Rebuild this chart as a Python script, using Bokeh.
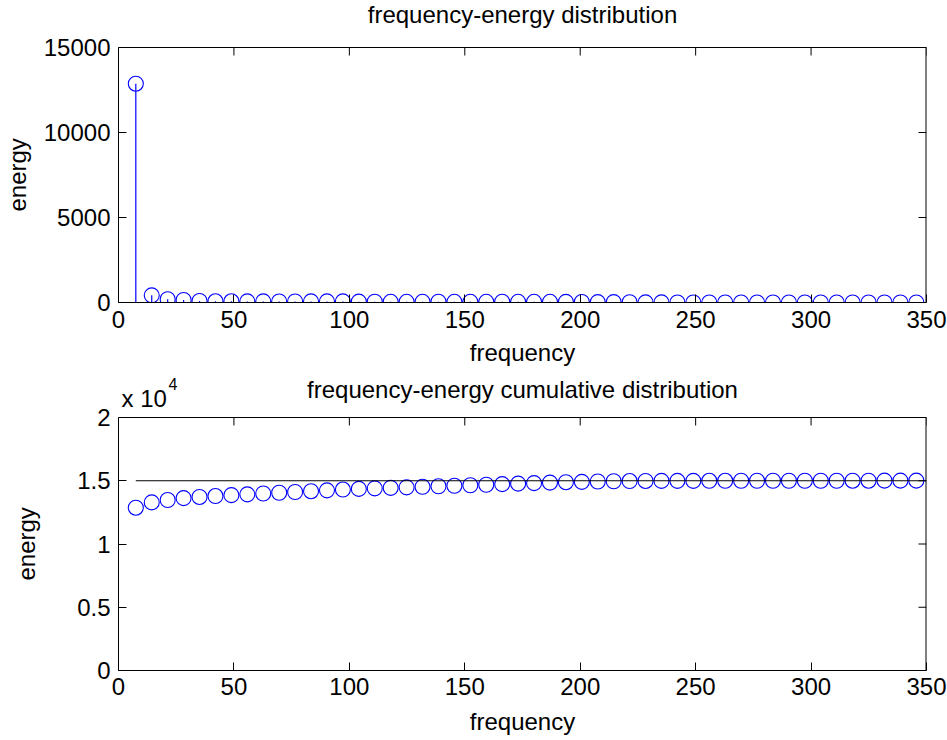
from bokeh.plotting import figure
from bokeh.models import FixedTicker, Range1d, Label, ColumnDataSource
from bokeh.layouts import column
from bokeh.embed import file_html
from bokeh.resources import INLINE
import numpy as np

# ---------------- data ----------------
freq = [7.5, 14.4, 21.3, 28.2, 35.1, 42.0, 48.9, 55.8, 62.7, 69.6,
        76.5, 83.4, 90.3, 97.2, 104.1, 111.0, 117.9, 124.8, 131.7, 138.6,
        145.5, 152.4, 159.3, 166.2, 173.1, 180.0, 186.9, 193.8, 200.7, 207.6,
        214.5, 221.4, 228.3, 235.2, 242.1, 249.0, 255.9, 262.8, 269.7, 276.6,
        283.5, 290.4, 297.3, 304.2, 311.1, 318.0, 324.9, 331.8, 338.7, 345.6]

energy = [12870, 420, 190, 150, 90, 70, 70, 65, 65, 60,
          60, 65, 65, 65, 50, 45, 40, 40, 40, 45,
          40, 40, 40, 45, 40, 40, 40, 35, 30, 25,
          20, 15, 10, 5, 3, 1, 1, 1, 1, 1,
          1, 1, 1, 1, 1, 1, 1, 1, 1, 1]

cumulative = list(np.cumsum(energy))
total_line = 15000

x_min, x_max = 0, 350
x_ticks = [0, 50, 100, 150, 200, 250, 300, 350]
top_y_max = 15000
top_y_ticks = [0, 5000, 10000, 15000]
bot_y_max = 20000
bot_y_ticks = [0, 5000, 10000, 15000, 20000]
bot_y_labels = ["0", "0.5", "1", "1.5", "2"]

title_top = "frequency-energy distribution"
title_bot = "frequency-energy cumulative distribution"
x_label = "frequency"
y_label = "energy"

FONT = "Liberation Sans"
BLUE = "#0000ff"
FS = "24px"
FRAME_W = 808
TICK = 8
NBSP = "\u00a0"


def style_axis(ax, standoff):
    ax.major_tick_in = TICK
    ax.major_tick_out = 0
    ax.minor_tick_line_color = None
    ax.axis_line_color = "black"
    ax.major_tick_line_color = "black"
    ax.major_label_text_font = FONT
    ax.major_label_text_font_size = FS
    ax.major_label_text_color = "black"
    ax.major_label_standoff = standoff
    ax.axis_label_text_font = FONT
    ax.axis_label_text_font_size = FS
    ax.axis_label_text_font_style = "normal"
    ax.axis_label_text_color = "black"


def make_fig(frame_h, box_h, bot_b, y_max, yticks, title, title_base,
             ylab_standoff, xlab_standoff, xtick_standoff, ylab_pad):
    # the frame extends above the axes box so that the title can sit inside it
    y_top = y_max * frame_h / box_h
    p = figure(frame_width=FRAME_W, frame_height=frame_h,
               x_range=Range1d(x_min, x_max), y_range=Range1d(0, y_top),
               output_backend="svg", toolbar_location=None,
               min_border_left=115, min_border_right=24,
               min_border_top=0, min_border_bottom=bot_b,
               x_axis_label=x_label,
               # padding keeps the label centred on the axes box, not the frame
               y_axis_label=y_label + NBSP * ylab_pad)
    p.xgrid.visible = False
    p.ygrid.visible = False
    p.outline_line_color = None
    p.background_fill_color = "white"
    p.border_fill_color = "white"

    xa = p.xaxis[0]
    ya = p.yaxis[0]
    style_axis(xa, xtick_standoff)
    style_axis(ya, 8)
    xa.ticker = FixedTicker(ticks=x_ticks)
    ya.ticker = FixedTicker(ticks=yticks)
    ya.bounds = (0, y_max)
    xa.axis_label_standoff = xlab_standoff
    ya.axis_label_standoff = ylab_standoff

    # box: top edge and right edge, with inward ticks
    p.segment(x0=[x_min], y0=[y_max], x1=[x_max], y1=[y_max],
              line_color="black", line_width=1)
    p.segment(x0=[x_max], y0=[0], x1=[x_max], y1=[y_max],
              line_color="black", line_width=2)
    tl_y = TICK * y_top / frame_h
    tl_x = TICK * (x_max - x_min) / FRAME_W
    p.segment(x0=x_ticks, y0=[y_max] * len(x_ticks), x1=x_ticks,
              y1=[y_max - tl_y] * len(x_ticks), line_color="black", line_width=1)
    p.segment(x0=[x_max] * len(yticks), y0=yticks, x1=[x_max - tl_x] * len(yticks),
              y1=yticks, line_color="black", line_width=1)

    p.add_layout(Label(x=FRAME_W / 2, y=title_base, x_units="screen",
                       y_units="screen", text=title, text_font=FONT,
                       text_font_size=FS, text_color="black",
                       text_align="center", text_baseline="alphabetic"))
    return p


src = ColumnDataSource(dict(freq=freq, energy=energy,
                            base=[0] * len(freq), cum=cumulative))

# ---------------- top: stem plot ----------------
p1 = make_fig(302, 255, 68, top_y_max, top_y_ticks, title_top, 288, 10, 8, 8, 7)
p1.segment(x0="freq", y0="base", x1="freq", y1="energy", source=src,
           line_color=BLUE, line_width=1.2)
p1.scatter("freq", "energy", source=src, marker="circle", size=15,
           fill_color=None, line_color=BLUE, line_width=1.1)

# ---------------- bottom: cumulative ----------------
p2 = make_fig(300, 253, 70, bot_y_max, bot_y_ticks, title_bot, 281, 34, 10, 7, 7)
p2.yaxis[0].major_label_overrides = {t: l for t, l in zip(bot_y_ticks, bot_y_labels)}
p2.scatter("freq", "cum", source=src, marker="circle", size=15,
           fill_color=None, line_color=BLUE, line_width=1.1)
p2.line(x=[freq[0], x_max], y=[total_line, total_line], line_color="black",
        line_width=1.2)

p2.add_layout(Label(x=3, y=272, x_units="screen", y_units="screen",
                    text="x 10", text_font=FONT, text_font_size=FS,
                    text_color="black", text_baseline="alphabetic"))
p2.add_layout(Label(x=50, y=287, x_units="screen", y_units="screen",
                    text="4", text_font=FONT, text_font_size="16px",
                    text_color="black", text_baseline="alphabetic"))

layout = column(p1, p2, spacing=0)
open("out.html", "w").write(file_html(layout, INLINE))
